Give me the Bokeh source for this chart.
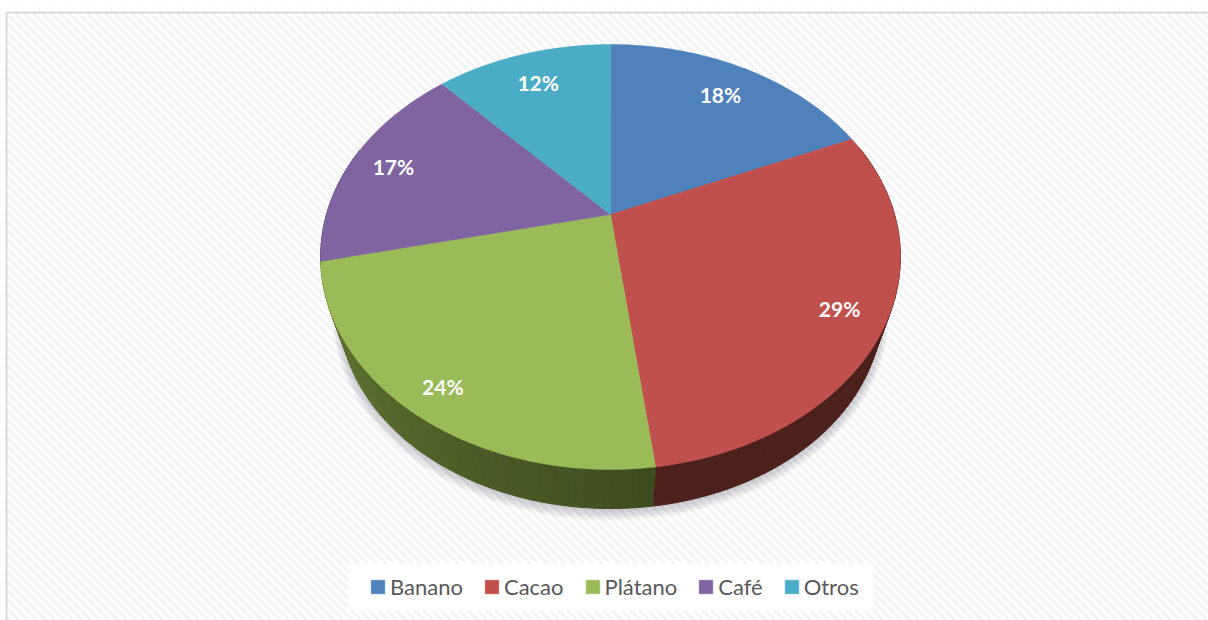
import math
from bokeh.plotting import figure
from bokeh.models import Range1d, Legend, LegendItem
from bokeh.core.properties import value
from bokeh.embed import file_html
from bokeh.resources import INLINE

categories = ["Banano", "Cacao", "Plátano", "Café", "Otros"]
shares = [18.48, 29.49, 23.52, 16.6, 11.91]
colors = ["#4f81bd", "#c0504d", "#9bbb59", "#8064a2", "#4bacc6"]

# perspective projection of the tilted disc into page pixels
CX, CY, A, B, K = 610, 214, 284, 204, 0.2
DROP_SCALE, DROP_CY = 0.935, 269.6


def top(theta, r=1.0):
    u, v = math.sin(theta) * r, math.cos(theta) * r
    w = 1 + K * v
    return CX + A * u / w, CY - B * v / w


def low(theta, grow=0.0, dy=0.0):
    u, v = math.sin(theta), math.cos(theta)
    w = 1 + K * v
    return CX + (A * DROP_SCALE + grow) * u / w, DROP_CY + dy - (B * DROP_SCALE + grow) * v / w


def rgb(hex_color):
    return [int(hex_color[i:i + 2], 16) for i in (1, 3, 5)]


p = figure(width=1208, height=620, x_range=Range1d(0, 1208), y_range=Range1d(620, 0),
           output_backend="svg", toolbar_location=None, min_border=0,
           background_fill_color="white", border_fill_color="white", outline_line_color=None)
p.axis.visible = False
p.grid.visible = False

# hatched chart area
hx, hy = [], []
for s in range(-620, 1240, 9):
    hx.append([s, s + 640])
    hy.append([-10, 630])
p.multi_line(hx, hy, line_color="#f4f4f4", line_width=3.2)
p.quad(left=[0, 0], right=[5, 1208], top=[0, 0], bottom=[620, 11], fill_color="white", line_color=None)
p.segment([6, 6], [12, 12], [1208, 6], [12, 620], line_color="#d9d9d9", line_width=2)

# boundaries of the slices
angles = [0.0]
for s in shares:
    angles.append(angles[-1] + s / sum(shares) * 2 * math.pi)

# soft shadow
ring = [2 * math.pi * i / 240 for i in range(240)]
for g in (7, 6, 5, 4, 3, 2, 1):
    pts = [low(t, grow=g, dy=g * 0.5) for t in ring]
    p.patch([q[0] for q in pts], [q[1] for q in pts], fill_color="#4a4a60", fill_alpha=0.045, line_color=None)

# side wall, in thin shaded strips
sx, sy, sc = [], [], []
for i, col in enumerate(colors):
    base = rgb(col)
    a0, a1 = angles[i], angles[i + 1]
    n = max(2, int((a1 - a0) / math.radians(1.5)))
    for j in range(n):
        t0 = a0 + (a1 - a0) * j / n
        t1 = a0 + (a1 - a0) * (j + 1) / n
        deg = math.degrees((t0 + t1) / 2)
        if deg < 70 or deg > 290:
            continue
        f = 0.40 + 0.20 * min(1, max(0, deg - 172) / 68)
        c = "#%02x%02x%02x" % (int(base[0] * f), int(base[1] * f), int(base[2] * f * 0.9))
        a, b = top(t0), top(t1)
        d, e = low(t1), low(t0)
        sx.append([a[0], b[0], d[0], e[0]])
        sy.append([a[1], b[1], d[1], e[1]])
        sc.append(c)
p.patches(sx, sy, fill_color=sc, line_color=sc, line_width=1)

# top face
items = []
for i, (name, col) in enumerate(zip(categories, colors)):
    a0, a1 = angles[i], angles[i + 1]
    n = 80
    pts = [top(a0 + (a1 - a0) * j / n) for j in range(n + 1)]
    xs = [CX] + [q[0] for q in pts]
    ys = [CY] + [q[1] for q in pts]
    r = p.patch(xs, ys, fill_color=col, line_color=col, line_width=0.5)
    items.append(LegendItem(label=name, renderers=[r]))

# value labels
label_r = [0.80, 0.85, 0.88, 0.84, 0.80]
lx, ly, lt = [], [], []
for i, s in enumerate(shares):
    q = top((angles[i] + angles[i + 1]) / 2, label_r[i])
    lx.append(q[0])
    ly.append(q[1])
    lt.append("%d%%" % round(s))
p.text(lx, ly, text=lt, text_color="white", text_font=value("Lato"), text_font_style="bold",
       text_font_size="21px", text_align="center", text_baseline="middle")

# legend
p.quad(left=[348], right=[873], top=[563], bottom=[610], fill_color="white", line_color=None)
legend = Legend(items=items, orientation="horizontal", location=(369, 20), margin=0, padding=10,
                background_fill_alpha=0, border_line_color=None, glyph_width=17, glyph_height=17,
                label_standoff=4, spacing=20, label_text_font="Lato", label_text_font_size="22px",
                label_text_color="#595959")
p.add_layout(legend, "center")

open("out.html", "w").write(file_html(p, INLINE))
